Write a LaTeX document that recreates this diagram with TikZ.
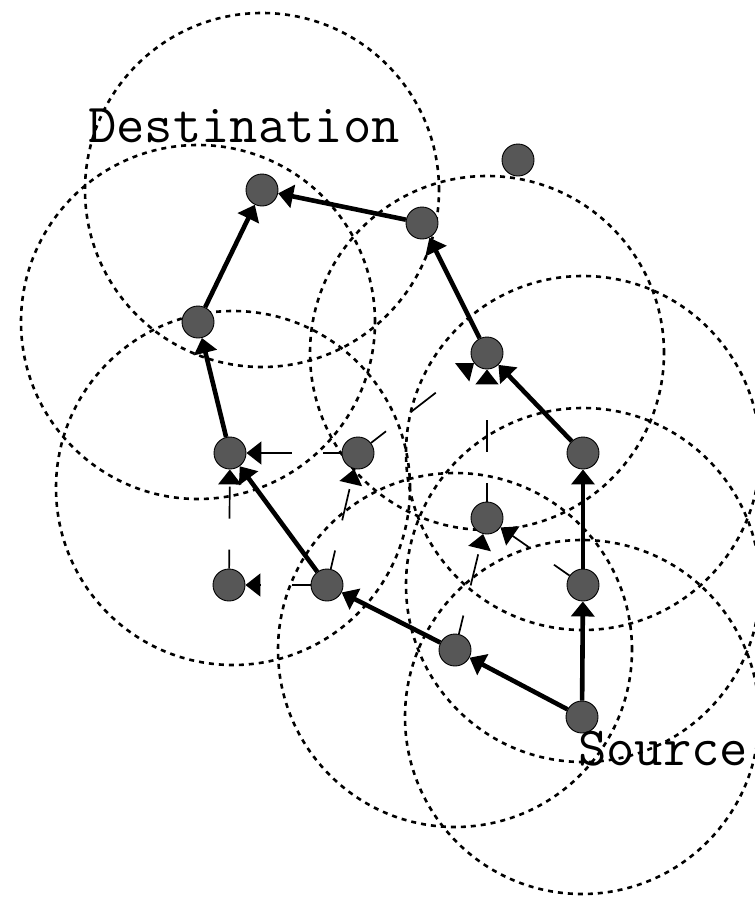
\documentclass[tikz,border=0pt]{standalone}
\usetikzlibrary{arrows.meta}

\begin{document}
\begin{tikzpicture}[x=1pt,y=-1pt,
		host/.style={circle,draw=black,line width=0.9pt,fill=black!66,minimum size=32pt,inner sep=0pt},
		reach/.style={line width=2.6pt,dash pattern=on 5pt off 5pt},
		route/.style={line width=4.6pt,-{Triangle[length=15pt,width=23pt]}},
		probe/.style={line width=1.7pt,dash pattern=on 19pt off 31pt on 32pt off 60pt,-{Triangle[length=15pt,width=23pt]}},
		tagtext/.style={font=\ttfamily\fontsize{55}{55}\selectfont,inner sep=0pt,anchor=base west}]
			\clip (0,0) rectangle (755,900);
			% radio ranges
			\foreach \cx/\cy in {262/190,198/322,233/488,487/353,583/453,583/585,582/717,455/650}
				\draw[reach] (\cx,\cy) circle (177pt);
			% hosts
			\node[host] (dst) at (262,190) {};
			\node[host] (u1) at (422,223) {};
			\node[host] (iso) at (518,160) {};
			\node[host] (v1) at (198,322) {};
			\node[host] (u2) at (487,353) {};
			\node[host] (v2) at (230,453) {};
			\node[host] (m1) at (358,453) {};
			\node[host] (u3) at (583,453) {};
			\node[host] (m2) at (487,518) {};
			\node[host] (w1) at (229,585) {};
			\node[host] (v3) at (327,585) {};
			\node[host] (u4) at (583,585) {};
			\node[host] (v4) at (455,650) {};
			\node[host] (src) at (582,717) {};
			\node[tagtext] (dstlabel) at (88,142) {Destination};
			\node[tagtext] (srclabel) at (578,765) {Source};
			% flooded copies
			\draw[probe] (m1) -- (v2);
			\draw[probe] (v3) -- (w1);
			\draw[probe] (v3) -- (m1);
			\draw[probe] (m1) -- (u2);
			\draw[probe] (w1) -- (v2);
			\draw[probe] (m2) -- (u2);
			\draw[probe] (v4) -- (m2);
			\draw[probe] (u4) -- (m2);
			% the two routes
			\draw[route] (src) -- (v4);
			\draw[route] (v4) -- (v3);
			\draw[route] (v3) -- (v2);
			\draw[route] (v2) -- (v1);
			\draw[route] (v1) -- (dst);
			\draw[route] (src) -- (u4);
			\draw[route] (u4) -- (u3);
			\draw[route] (u3) -- (u2);
			\draw[route] (u2) -- (u1);
			\draw[route] (u1) -- (dst);
		\end{tikzpicture}
\end{document}
